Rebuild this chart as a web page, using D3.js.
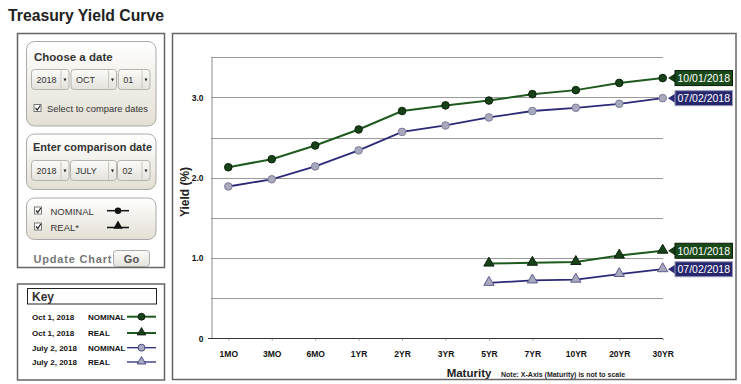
<!DOCTYPE html>
<html>
<head>
<meta charset="utf-8">
<script src="https://cdn.jsdelivr.net/npm/d3@7"></script>
<style>
  html, body { margin: 0; padding: 0; background: #fff; }
  svg { display: block; font-family: "Liberation Sans", Arial, sans-serif; }
</style>
</head>
<body>
<svg id="chart" width="741" height="384"></svg>
<script>
// ---- Data ----
const maturities = ["1MO","3MO","6MO","1YR","2YR","3YR","5YR","7YR","10YR","20YR","30YR"];
const nominalOct = [2.13, 2.23, 2.40, 2.60, 2.83, 2.90, 2.96, 3.04, 3.09, 3.18, 3.24];
const nominalJul = [1.89, 1.98, 2.14, 2.34, 2.57, 2.65, 2.75, 2.83, 2.87, 2.92, 2.99];
const realMaturities = ["5YR","7YR","10YR","20YR","30YR"];
const realOct = [0.93, 0.94, 0.95, 1.03, 1.09];
const realJul = [0.69, 0.72, 0.73, 0.80, 0.86];
const yTickValues = [0, 1.0, 2.0, 3.0];
const yTickLabels = ["0", "1.0", "2.0", "3.0"];
const gridValues = [0.5, 1.0, 1.5, 2.0, 2.5, 3.0, 3.5];
const dateLabels = ["10/01/2018", "07/02/2018"];
const keyRows = [
  ["Oct 1, 2018", "NOMINAL"], ["Oct 1, 2018", "REAL"],
  ["July 2, 2018", "NOMINAL"], ["July 2, 2018", "REAL"]
];

const GREEN = "#1e5a1e", GREEN_FILL = "#174217";
const BLUE = "#2a2a78", BLUE_FILL = "#a9a9bd";

const svg = d3.select("#chart");
const defs = svg.append("defs");
const grad = defs.append("linearGradient").attr("id", "panelGrad").attr("x1", 0).attr("y1", 0).attr("x2", 0).attr("y2", 1);
grad.append("stop").attr("offset", "0%").attr("stop-color", "#ffffff");
grad.append("stop").attr("offset", "100%").attr("stop-color", "#e3dfd4");
const selGrad = defs.append("linearGradient").attr("id", "selGrad").attr("x1", 0).attr("y1", 0).attr("x2", 0).attr("y2", 1);
selGrad.append("stop").attr("offset", "0%").attr("stop-color", "#fbfbf9");
selGrad.append("stop").attr("offset", "100%").attr("stop-color", "#e4e2dc");

// Title
svg.append("text").attr("x", 8).attr("y", 21).attr("font-size", 16.5).attr("font-weight", "bold")
  .attr("fill", "#222").attr("textLength", 156).attr("lengthAdjust", "spacingAndGlyphs")
  .text("Treasury Yield Curve");

// ---- Left control panel ----
svg.append("rect").attr("x", 17.5).attr("y", 33.5).attr("width", 147).attr("height", 234)
  .attr("fill", "#fff").attr("stroke", "#666").attr("stroke-width", 1.5);

function panel(y, h) {
  svg.append("rect").attr("x", 26.5).attr("y", y).attr("width", 129.5).attr("height", h)
    .attr("rx", 8).attr("fill", "url(#panelGrad)").attr("stroke", "#aaa").attr("stroke-width", 1);
}
function select(x, y, w, label) {
  const g = svg.append("g");
  g.append("rect").attr("x", x).attr("y", y).attr("width", w).attr("height", 20).attr("rx", 3)
    .attr("fill", "url(#selGrad)").attr("stroke", "#b5b3ac");
  g.append("line").attr("x1", x + w - 8).attr("x2", x + w - 8).attr("y1", y + 1).attr("y2", y + 19).attr("stroke", "#c8c6c0");
  g.append("path").attr("d", `M${x + w - 5.5},${y + 9} l3,0 l-1.5,3 z`).attr("fill", "#222");
  g.append("text").attr("x", x + 5).attr("y", y + 13).attr("font-size", 9).attr("fill", "#333").text(label);
}
function checkbox(x, y) {
  svg.append("rect").attr("x", x).attr("y", y).attr("width", 7).attr("height", 7).attr("fill", "#fff").attr("stroke", "#777");
  svg.append("path").attr("d", `M${x + 1.5},${y + 3.5} l1.8,2 l3,-4.5`).attr("fill", "none").attr("stroke", "#222").attr("stroke-width", 1.2);
}

panel(41.5, 84.5);
svg.append("text").attr("x", 34).attr("y", 61).attr("font-size", 11.5).attr("font-weight", "bold").attr("fill", "#333").text("Choose a date");
select(31.5, 69.5, 37.5, "2018");
select(71, 69.5, 45.5, "OCT");
select(118.3, 69.5, 31.7, "01");
checkbox(34, 104.5);
svg.append("text").attr("x", 47).attr("y", 111.5).attr("font-size", 9.5).attr("fill", "#333")
  .attr("textLength", 101).attr("lengthAdjust", "spacingAndGlyphs").text("Select to compare dates");

panel(134, 55.5);
svg.append("text").attr("x", 33).attr("y", 151).attr("font-size", 11.5).attr("font-weight", "bold").attr("fill", "#333")
  .attr("textLength", 119).attr("lengthAdjust", "spacingAndGlyphs").text("Enter comparison date");
select(31.5, 160.5, 37.5, "2018");
select(70.5, 160.5, 46, "JULY");
select(117.5, 160.5, 32.5, "02");

panel(198, 41.5);
checkbox(34.5, 207);
checkbox(34.5, 223);
svg.append("text").attr("x", 50.5).attr("y", 214.5).attr("font-size", 9.5).attr("fill", "#333").text("NOMINAL");
svg.append("text").attr("x", 50.5).attr("y", 230.5).attr("font-size", 9.5).attr("fill", "#333").text("REAL*");
svg.append("line").attr("x1", 107).attr("x2", 129).attr("y1", 210.7).attr("y2", 210.7).attr("stroke", "#111").attr("stroke-width", 1.5);
svg.append("circle").attr("cx", 118).attr("cy", 210.7).attr("r", 3.2).attr("fill", "#111");
svg.append("line").attr("x1", 107).attr("x2", 129).attr("y1", 227.5).attr("y2", 227.5).attr("stroke", "#111").attr("stroke-width", 1.5);
svg.append("path").attr("d", d3.symbol(d3.symbolTriangle, 38)()).attr("transform", "translate(118,226)").attr("fill", "#111");

svg.append("text").attr("x", 33.5).attr("y", 262.5).attr("font-size", 11).attr("font-weight", "bold").attr("fill", "#777")
  .attr("textLength", 78).attr("lengthAdjust", "spacing").text("Update Chart");
svg.append("rect").attr("x", 113.5).attr("y", 250.5).attr("width", 36).attr("height", 16).attr("rx", 3)
  .attr("fill", "url(#selGrad)").attr("stroke", "#aaa");
svg.append("text").attr("x", 131.5).attr("y", 262.5).attr("text-anchor", "middle").attr("font-size", 11)
  .attr("font-weight", "bold").attr("fill", "#555").text("Go");

// ---- Key box ----
svg.append("rect").attr("x", 17.5).attr("y", 284).attr("width", 147).attr("height", 96)
  .attr("fill", "#fff").attr("stroke", "#666").attr("stroke-width", 1.5);
svg.append("rect").attr("x", 27.5).attr("y", 288.5).attr("width", 129).attr("height", 15.5)
  .attr("fill", "#fff").attr("stroke", "#222").attr("stroke-width", 1);
svg.append("text").attr("x", 32).attr("y", 300.5).attr("font-size", 12).attr("font-weight", "bold").attr("fill", "#333").text("Key");
const keyYs = [316.7, 333, 347.7, 362];
const keyStyles = [
  {c: GREEN, f: GREEN_FILL, s: "circle"}, {c: GREEN, f: GREEN_FILL, s: "tri"},
  {c: BLUE, f: BLUE_FILL, s: "circle"}, {c: BLUE, f: BLUE_FILL, s: "tri"}
];
keyRows.forEach((r, i) => {
  const y = keyYs[i];
  svg.append("text").attr("x", 32).attr("y", y + 3).attr("font-size", 8).attr("font-weight", "bold").attr("fill", "#111").text(r[0]);
  svg.append("text").attr("x", 88).attr("y", y + 3).attr("font-size", 8).attr("font-weight", "bold").attr("fill", "#111").text(r[1]);
  const st = keyStyles[i];
  svg.append("line").attr("x1", 127).attr("x2", 156).attr("y1", y).attr("y2", y).attr("stroke", st.c).attr("stroke-width", i < 2 ? 2 : 1.3);
  if (st.s === "circle") {
    svg.append("circle").attr("cx", 141.5).attr("cy", y).attr("r", 3.5).attr("fill", st.f).attr("stroke", i < 2 ? "#111" : st.c).attr("stroke-width", 0.8);
  } else {
    svg.append("path").attr("d", d3.symbol(d3.symbolTriangle, 32)()).attr("transform", `translate(141.5,${y - 0.5})`)
      .attr("fill", st.f).attr("stroke", i < 2 ? "#111" : st.c).attr("stroke-width", 0.8);
  }
});

// ---- Chart frame ----
svg.append("rect").attr("x", 172.5).attr("y", 33.5).attr("width", 563.5).attr("height", 346)
  .attr("fill", "#fff").attr("stroke", "#666").attr("stroke-width", 1.5);

const x = d3.scalePoint().domain(maturities).range([228.3, 662.7]);
const y = d3.scaleLinear().domain([0, 3.5]).range([338.3, 57.2]);
const plotLeft = 211, plotRight = 663;

// Gridlines
svg.append("g").selectAll("line").data(gridValues).join("line")
  .attr("x1", plotLeft).attr("x2", plotRight)
  .attr("y1", d => Math.round(y(d)) + 0.5).attr("y2", d => Math.round(y(d)) + 0.5)
  .attr("stroke", "#9a9a9a").attr("stroke-width", 1);

// Y axis
const yAxis = d3.axisLeft(y).tickValues(yTickValues).tickFormat((d, i) => yTickLabels[i]).tickSize(0).tickPadding(8);
const yg = svg.append("g").attr("transform", `translate(${plotLeft + 0.5},0)`).call(yAxis);
yg.select(".domain").attr("stroke", "#8a8a8a");
yg.selectAll("text").attr("font-size", 8.5).attr("font-weight", "bold").attr("fill", "#111")
  .attr("font-family", "'Liberation Sans', Arial, sans-serif");
svg.append("line").attr("x1", plotLeft - 3).attr("x2", plotLeft).attr("y1", 338.5).attr("y2", 338.5).attr("stroke", "#333");

// X axis
const xAxis = d3.axisBottom(x).tickSize(2).tickPadding(10);
const xg = svg.append("g").attr("transform", `translate(0,338.5)`).call(xAxis);
xg.select(".domain").attr("d", `M${plotLeft},0H${plotRight}`).attr("stroke", "#333").attr("stroke-width", 1.2);
xg.selectAll(".tick line").attr("stroke", "#999");
xg.selectAll("text").attr("font-size", 8.5).attr("font-weight", "bold").attr("fill", "#111")
  .attr("font-family", "'Liberation Sans', Arial, sans-serif");

// Axis titles
svg.append("text").attr("transform", "translate(189,192) rotate(-90)").attr("text-anchor", "middle")
  .attr("font-size", 12).attr("font-weight", "bold").attr("fill", "#222").text("Yield (%)");
svg.append("text").attr("x", 469).attr("y", 377).attr("text-anchor", "middle")
  .attr("font-size", 11.5).attr("font-weight", "bold").attr("fill", "#222").text("Maturity");
svg.append("text").attr("x", 501).attr("y", 376.5).attr("font-size", 7).attr("font-weight", "bold").attr("fill", "#222")
  .text("Note: X-Axis (Maturity) is not to scale");

// ---- Series ----
const line = d3.line().x(d => x(d[0])).y(d => y(d[1]));
const series = [
  {cats: maturities, vals: nominalJul, c: BLUE, f: BLUE_FILL, s: "circle", w: 1.8, label: dateLabels[1]},
  {cats: maturities, vals: nominalOct, c: GREEN, f: GREEN_FILL, s: "circle", w: 2, label: dateLabels[0]},
  {cats: realMaturities, vals: realJul, c: BLUE, f: BLUE_FILL, s: "tri", w: 1.8, label: dateLabels[1]},
  {cats: realMaturities, vals: realOct, c: GREEN, f: GREEN_FILL, s: "tri", w: 2, label: dateLabels[0]}
];
series.forEach(sr => {
  const pts = sr.cats.map((c, i) => [c, sr.vals[i]]);
  svg.append("path").datum(pts).attr("d", line).attr("fill", "none").attr("stroke", sr.c).attr("stroke-width", sr.w);
  const g = svg.append("g");
  if (sr.s === "circle") {
    g.selectAll("circle").data(pts).join("circle").attr("cx", d => x(d[0])).attr("cy", d => y(d[1])).attr("r", 3.8)
      .attr("fill", sr.f).attr("stroke", sr.c === GREEN ? "#0d220d" : "#7c7c9c").attr("stroke-width", 1);
  } else {
    g.selectAll("path").data(pts).join("path").attr("d", d3.symbol(d3.symbolTriangle, 46)())
      .attr("transform", d => `translate(${x(d[0])},${y(d[1]) - 0.5})`)
      .attr("fill", sr.f).attr("stroke", sr.c === GREEN ? "#0d220d" : "#5c5c90").attr("stroke-width", 1);
  }
  // end label
  const last = pts[pts.length - 1];
  const ly = y(last[1]);
  const lx = 675;
  const lg = svg.append("g");
  lg.append("path").attr("d", `M${lx - 7},${ly} L${lx},${ly - 4.5} L${lx},${ly + 4.5} Z`).attr("fill", sr.c === GREEN ? "#143a14" : BLUE);
  lg.append("rect").attr("x", lx).attr("y", ly - 7.5).attr("width", 57.5).attr("height", 15)
    .attr("fill", sr.c === GREEN ? "#1a4a1a" : "#26266e")
    .attr("stroke", sr.c === GREEN ? "#0a1a0a" : "#9a9ab8").attr("stroke-width", 1);
  lg.append("text").attr("x", lx + 28.75).attr("y", ly + 3.8).attr("text-anchor", "middle").attr("font-size", 10.5)
    .attr("fill", "#fff").text(sr.label);
});
</script>
</body>
</html>
